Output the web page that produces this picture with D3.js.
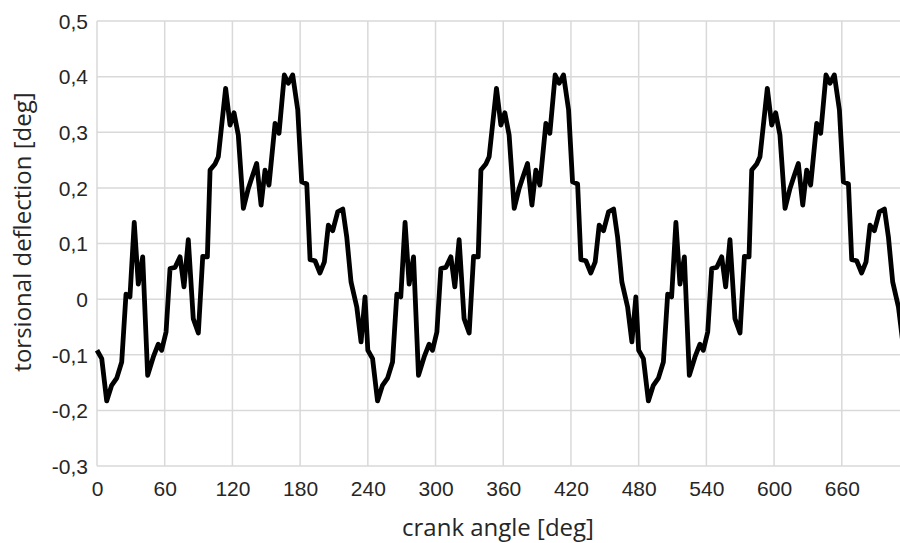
<!DOCTYPE html>
<html>
<head>
<meta charset="utf-8">
<script src="https://cdn.jsdelivr.net/npm/d3@7"></script>
<style>
  body { margin: 0; background: #fff; }
  svg { display: block; font-family: "Open Sans", Lato, sans-serif; }
  .grid line { stroke: #d9d9d9; stroke-width: 1.5; }
  .tick text { fill: #262626; font-size: 21px; }
  .title { fill: #262626; font-size: 24px; }
</style>
</head>
<body>
<div id="chart"></div>
<script>
// one crank cycle (240 deg); the chart shows it three times
var cycleAngle = [0, 4.2, 8.6, 13, 17.5, 21.9, 25.7, 29.2, 33, 36.6, 40.5, 44.9, 49.9, 54.3,
  57.3, 61.2, 64.7, 69.1, 73.6, 77.1, 80.9, 85.3, 89.8, 93.7, 97.8, 100.2, 104.6, 107.5,
  114, 117.9, 121.4, 125.2, 129.7, 134.1, 137.8, 141.5, 145.4, 148.9, 152.4, 157.8, 161.3,
  166, 169.5, 173.4, 177.9, 181.4, 185.9, 188.8, 193.2, 197.6, 201.5, 205, 208.9, 213.3,
  217.8, 221.3, 225.1, 230.2, 234, 237.5];
var cycleDeflection = [-0.092, -0.107, -0.183, -0.155, -0.142, -0.113, 0.009, 0.004, 0.138,
  0.027, 0.076, -0.137, -0.104, -0.081, -0.092, -0.059, 0.055, 0.057, 0.076, 0.022, 0.107,
  -0.035, -0.061, 0.077, 0.076, 0.232, 0.243, 0.256, 0.379, 0.313, 0.335, 0.295, 0.163,
  0.199, 0.222, 0.244, 0.169, 0.232, 0.205, 0.316, 0.298, 0.403, 0.388, 0.403, 0.34, 0.211,
  0.207, 0.071, 0.069, 0.047, 0.067, 0.133, 0.123, 0.157, 0.162, 0.112, 0.031, -0.014,
  -0.077, 0.004];
var cycleLength = 240;
var cycleCount = 3;

var xTicks = [0, 60, 120, 180, 240, 300, 360, 420, 480, 540, 600, 660, 720];
var yTicks = [-0.3, -0.2, -0.1, 0, 0.1, 0.2, 0.3, 0.4, 0.5];

var width = 900, height = 543;
var margin = {left: 97, top: 21, bottom: 77};
var plotRight = 909.5; // plot area runs past the right edge of the picture

var data = [];
for (var k = 0; k < cycleCount; k++) {
  cycleAngle.forEach(function(a, i) {
    data.push([a + k * cycleLength, cycleDeflection[i]]);
  });
}
data.push([cycleCount * cycleLength, cycleDeflection[0]]);

var svg = d3.select("#chart")
  .append("svg")
    .attr("width", width)
    .attr("height", height);

var x = d3.scaleLinear().domain([0, 720]).range([margin.left, plotRight]);
var y = d3.scaleLinear().domain([-0.3, 0.5]).range([height - margin.bottom, margin.top]);

var locale = d3.formatLocale({decimal: ",", thousands: ".", grouping: [3], currency: ["", ""], minus: "-"});
var fmt = locale.format(".1~f");

// gridlines
svg.append("g")
    .attr("class", "grid")
  .selectAll("line.h")
  .data(yTicks)
  .join("line")
    .attr("x1", margin.left)
    .attr("x2", plotRight)
    .attr("y1", function(d) { return y(d); })
    .attr("y2", function(d) { return y(d); });

svg.append("g")
    .attr("class", "grid")
  .selectAll("line.v")
  .data(xTicks)
  .join("line")
    .attr("x1", function(d) { return x(d); })
    .attr("x2", function(d) { return x(d); })
    .attr("y1", y(0.5))
    .attr("y2", y(-0.3));

// axes (labels only)
var yAxis = svg.append("g")
    .attr("transform", "translate(" + (margin.left - 9) + ",0)")
    .call(d3.axisLeft(y).tickValues(yTicks).tickFormat(fmt).tickSize(0).tickPadding(0));
yAxis.select(".domain").remove();
yAxis.selectAll(".tick text").attr("dy", "0.35em");

var xAxis = svg.append("g")
    .attr("transform", "translate(0," + (height - margin.bottom + 11) + ")")
    .call(d3.axisBottom(x).tickValues(xTicks.slice(0, -1)).tickFormat(d3.format("d")).tickSize(0).tickPadding(0));
xAxis.select(".domain").remove();
xAxis.selectAll(".tick text").attr("dy", "0.9em");

// series
var line = d3.line()
  .x(function(d) { return x(d[0]); })
  .y(function(d) { return y(d[1]); });

svg.append("path")
  .datum(data)
  .attr("d", line)
  .attr("fill", "none")
  .attr("stroke", "#000")
  .attr("stroke-width", 4.8)
  .attr("stroke-linejoin", "round");

// axis titles
svg.append("text")
  .attr("class", "title")
  .attr("x", 498)
  .attr("y", 536)
  .attr("text-anchor", "middle")
  .text("crank angle [deg]");

svg.append("text")
  .attr("class", "title")
  .attr("transform", "translate(31,232) rotate(-90)")
  .attr("text-anchor", "middle")
  .text("torsional deflection [deg]");
</script>
</body>
</html>
